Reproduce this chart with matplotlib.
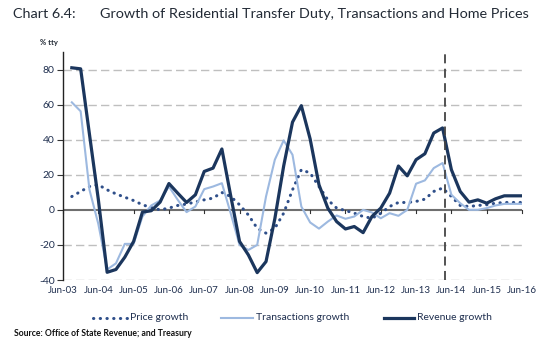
import matplotlib
matplotlib.use("Agg")
import matplotlib.pyplot as plt
from matplotlib.lines import Line2D

plt.rcParams['font.family'] = ['Lato', 'DejaVu Sans']

tick_labels = ["Jun-03", "Jun-04", "Jun-05", "Jun-06", "Jun-07", "Jun-08", "Jun-09",
               "Jun-10", "Jun-11", "Jun-12", "Jun-13", "Jun-14", "Jun-15", "Jun-16"]
series_names = ["Price growth", "Transactions growth", "Revenue growth"]

# quarterly, Sep-03 .. Jun-16 (52 quarters)
revenue = [81, 80.4, 43, 6, -35.6, -34, -27, -18, -1.3, -0.5, 4.4, 15, 9.5, 4.2, 8.6,
           21.9, 23.8, 34.7, 8, -18, -25.7, -35.8, -29.5, -5, 25, 50, 59.4, 40.4, 14.3,
           1, -6.7, -10.9, -9.5, -13, -3.8, 1, 9.5, 25, 19.4, 28.6, 32, 43.8, 46.7,
           22.9, 10.5, 4.4, 5.7, 3.8, 6.3, 8, 8, 8]
transactions = [61.3, 56.2, 11.4, -8, -34, -30.5, -19.4, -19.4, -3.8, 2.5, 5.3, 13.3,
                5.7, -1.3, 1.9, 11.8, 13.3, 15.2, -2, -20, -22.9, -20, 7.6, 28.6, 39.6,
                31.4, 1.9, -7.2, -10.7, -6.7, -3.2, -5.1, -3.8, 0, -1.5, -4.8, -1.9,
                -3.4, 0, 14.9, 16.8, 23.8, 26.7, 8.6, 3.8, 0, 0, 1, 2.5, 3.4, 3.4, 3.4]
price = [7.6, 10.5, 13.3, 14.3, 11.4, 9.1, 7.2, 5.3, 2.9, 1.3, 0, 1, 2.5, 3.3, 4.5,
         5.7, 6.7, 9.9, 7.6, 2.9, -2.9, -10.5, -13.3, -10.5, -1.9, 11.4, 22.9, 21,
         13.3, 5.7, 1, -0.4, -1.9, -3.8, -4.8, -2, 1.9, 4.2, 4.2, 4.8, 6.1, 10.5, 12.4,
         7.6, 2.5, 1.9, 2.5, 2.9, 3.8, 4.2, 4.2, 4.2]

FORECAST_X = 43.3

x = list(range(1, len(revenue) + 1))

NAVY = "#1B365D"
LIGHT = "#9DB9E0"
DOT = "#2F4F8A"
TXT = "#1F2F4F"
DOTSTYLE = (0, (0.1, 2.1))

W, H = 541, 350
fig = plt.figure(figsize=(5.41, 3.5), dpi=100)
ax = fig.add_axes([63/W, 1 - 280/H, (522-63)/W, (280-52)/H])

for v in [-40, -20, 20, 40, 60, 80]:
    ax.axhline(v, color="#BFBFBF", lw=1.0, ls=(0, (6, 3)), zorder=1)
ax.axhline(0, color="#6F6F6F", lw=1.5, zorder=2)
# tick marks along zero line
for k in range(0, 53, 4):
    ax.plot([k, k], [0, -1.6], color="#333333", lw=0.8, zorder=2, clip_on=False)

ax.plot(x, price, color=DOT, lw=2.2, ls=DOTSTYLE, dash_capstyle="round", zorder=3)
ax.plot(x, transactions, color=LIGHT, lw=1.5, zorder=4)
ax.plot(x, revenue, color=NAVY, lw=2.3, zorder=5)

ax.axvline(FORECAST_X, color="#444444", lw=1.3, ls=(0, (5, 3)), zorder=6)

ax.set_xlim(0, 52)
ax.set_ylim(-40, 90)
ax.set_yticks([-40, -20, 0, 20, 40, 60, 80])
ax.set_yticklabels([str(v) for v in [-40, -20, 0, 20, 40, 60, 80]], color=TXT, fontsize=7.5)
ax.set_xticks(list(range(0, 53, 4)))
ax.set_xticklabels(tick_labels, color=TXT, fontsize=7)
ax.tick_params(axis="x", length=0, pad=4)
ax.tick_params(axis="y", length=4, width=0.8, color="#333333", pad=2)
for s in ["top", "right", "bottom"]:
    ax.spines[s].set_visible(False)
ax.spines["left"].set_color("#222222")
ax.spines["left"].set_linewidth(1.0)

fig.text(13/W, 1 - 14/H, "Chart 6.4:", fontsize=10.4, color="#222A35", va="center")
fig.text(100/W, 1 - 14/H, "Growth of Residential Transfer Duty, Transactions and Home Prices",
         fontsize=10.4, color="#222A35", va="center")
fig.text(40/W, 1 - 42/H, "% tty", fontsize=5.5, color="#222A35", weight="bold", va="center")

# legend drawn manually
leg_y = 1 - 318/H
leg_specs = [
    (93, 127, 130, dict(color=DOT, lw=2.2, ls=DOTSTYLE, dash_capstyle="round")),
    (221, 253, 256, dict(color=LIGHT, lw=1.5)),
    (384, 414, 417, dict(color=NAVY, lw=2.3)),
]
for (x0, x1, tx, style), name in zip(leg_specs, series_names):
    fig.add_artist(Line2D([x0/W, x1/W], [leg_y, leg_y], transform=fig.transFigure, **style))
    fig.text(tx/W, leg_y, name, fontsize=7.5, color=TXT, va="center", ha="left")

fig.text(14/W, 1 - 333/H, "Source: Office of State Revenue; and Treasury", fontsize=6.2,
         weight="bold", color="#111111", va="center")

fig.savefig("out.png", dpi=100)
